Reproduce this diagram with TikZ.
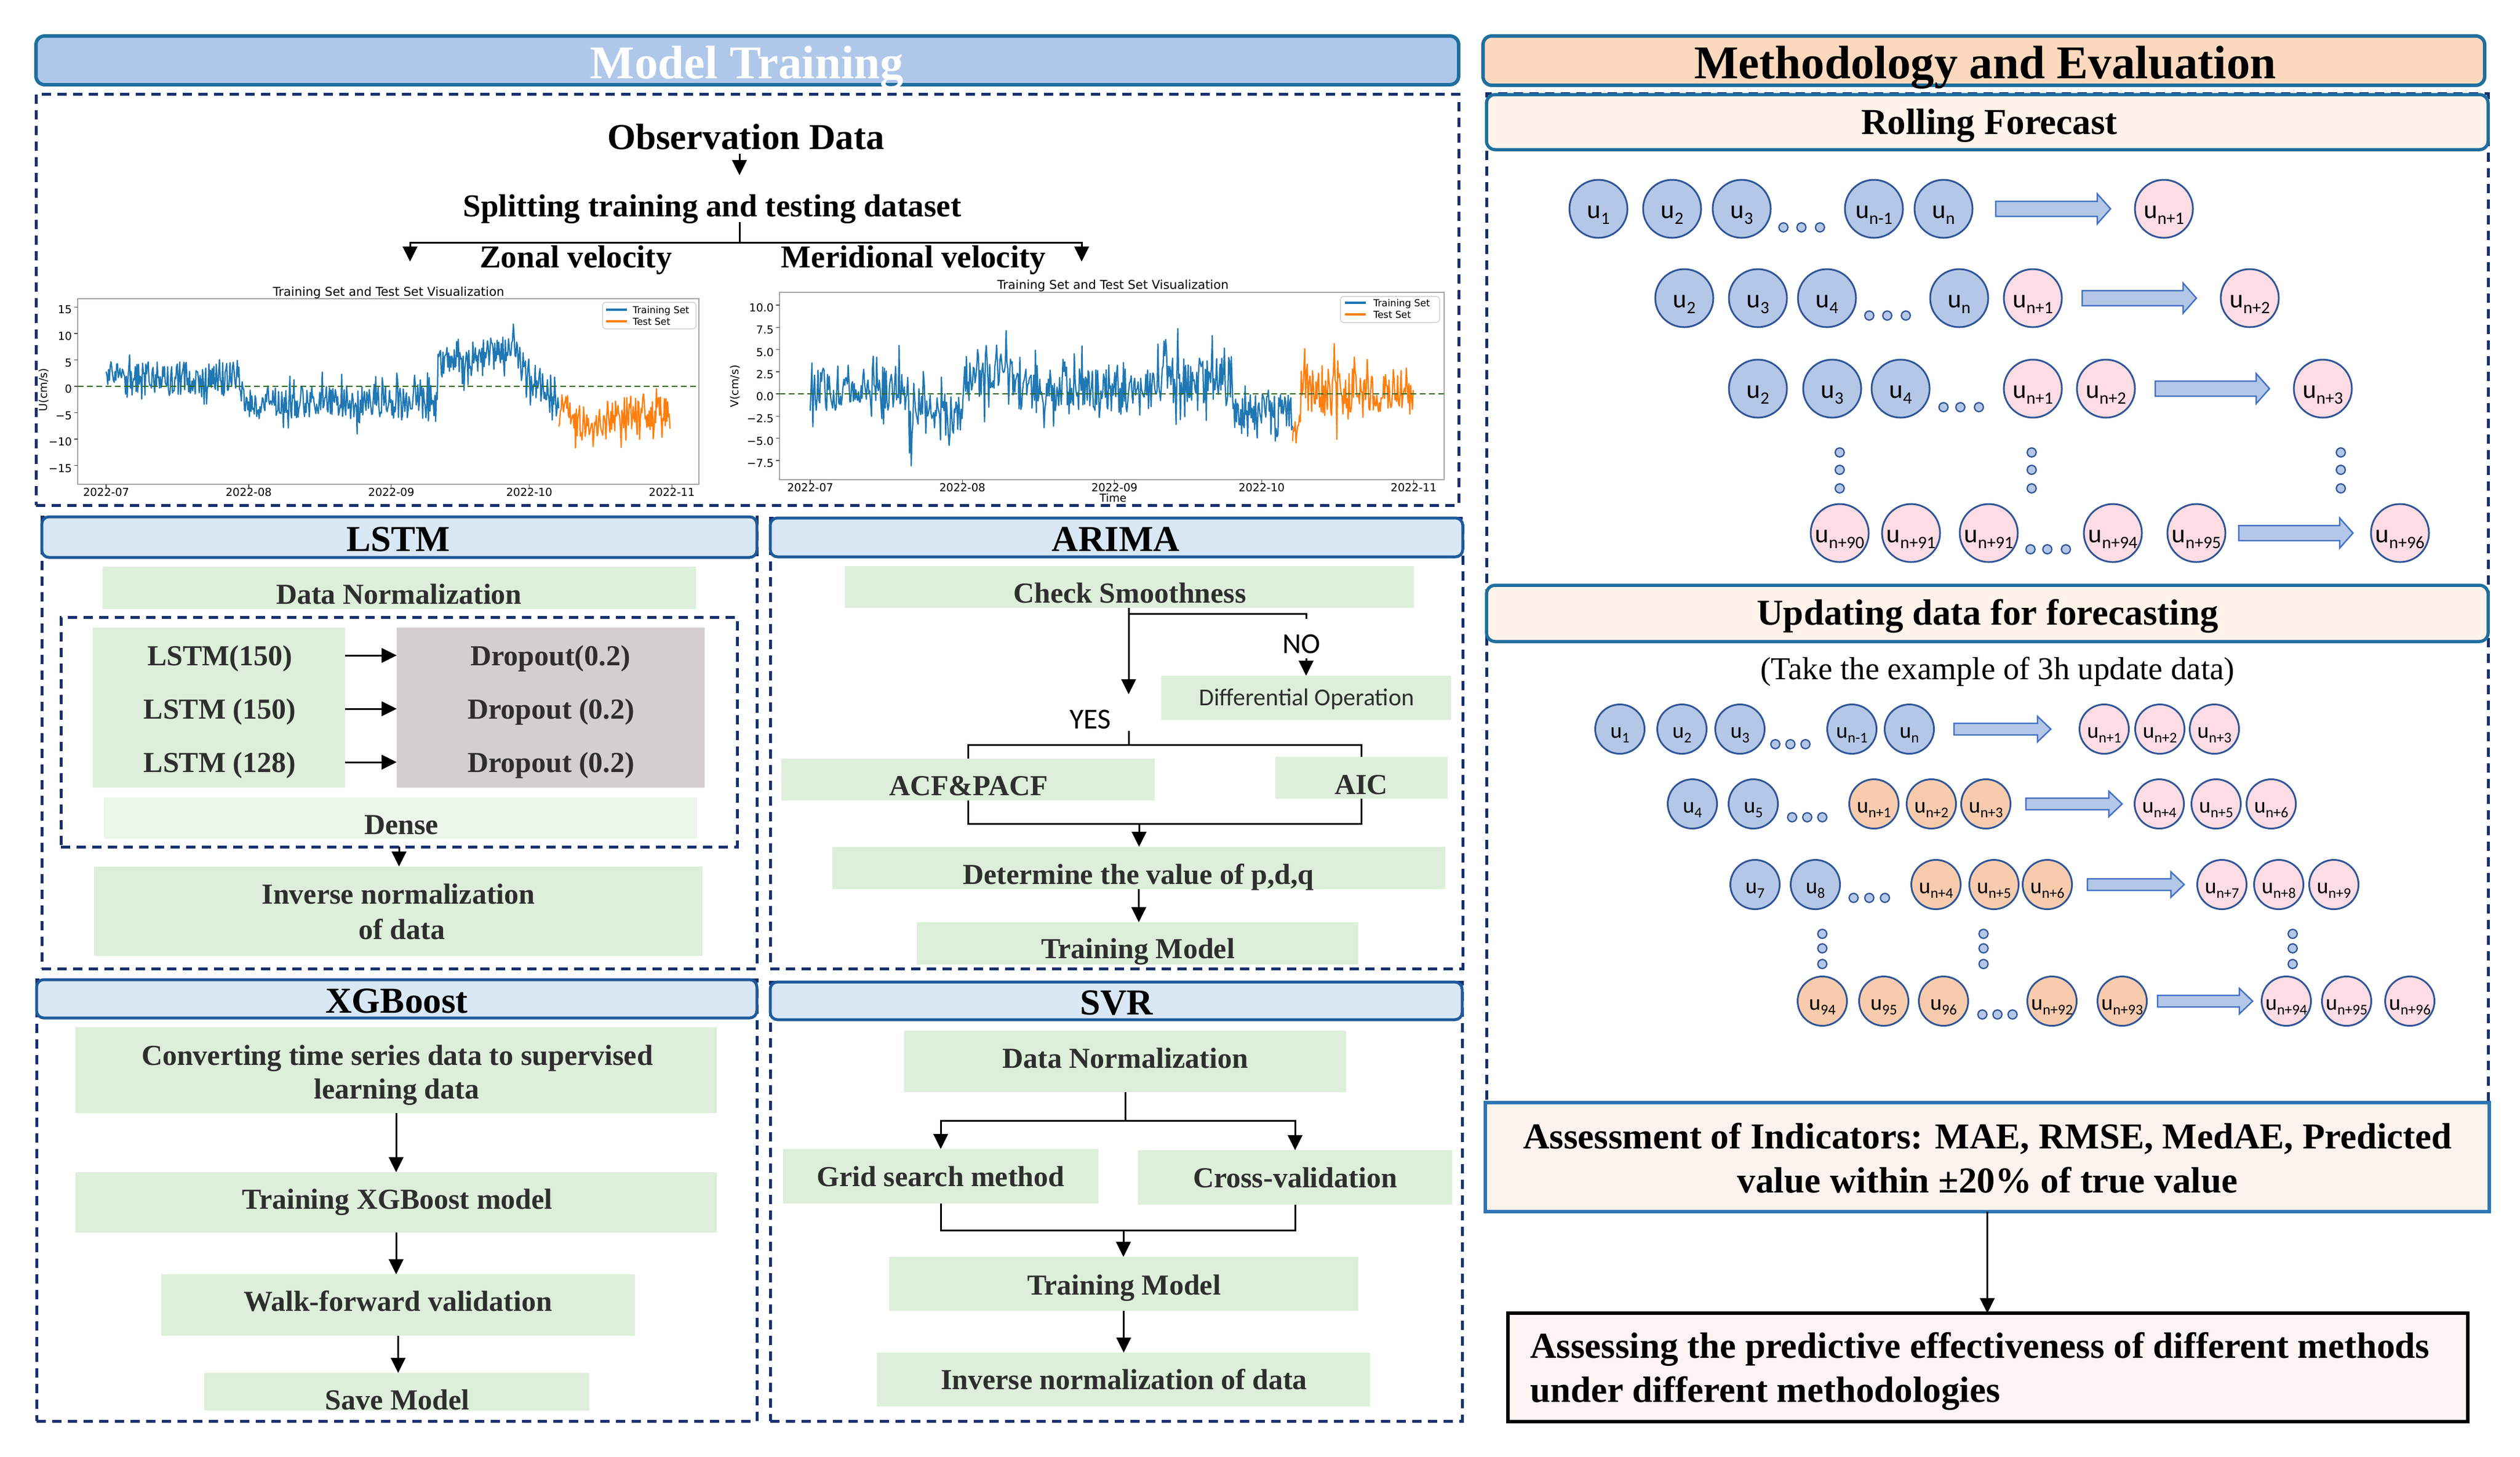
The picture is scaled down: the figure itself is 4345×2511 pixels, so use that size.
\documentclass[tikz,border=0pt]{standalone}
\usepackage{fontspec}
\setmainfont{Liberation Serif}
\newfontfamily\calf{Carlito}
\newfontfamily\dvf{DejaVu Sans}
\usetikzlibrary{arrows.meta,fit}
\definecolor{bannerBlue}{HTML}{AFC8EA}
\definecolor{bannerEdge}{HTML}{1E6E9E}
\definecolor{hdrFill}{HTML}{DAE8F5}
\definecolor{hdrEdge}{HTML}{1F5A9C}
\definecolor{navy}{HTML}{17306E}
\definecolor{gFill}{HTML}{DDEFDA}
\definecolor{gLight}{HTML}{ECF6EA}
\definecolor{dropFill}{HTML}{D3CFD0}
\definecolor{txtGrey}{HTML}{2E2E2E}
\definecolor{peach}{HTML}{FCD9BE}
\definecolor{peachL}{HTML}{FEF2EA}
\definecolor{cBlue}{HTML}{B4C7E7}
\definecolor{cEdge}{HTML}{2F5597}
\definecolor{cPink}{HTML}{FDDCE3}
\definecolor{cOrange}{HTML}{F8CBAD}
\definecolor{arrEdge}{HTML}{4472C4}
\definecolor{assFill}{HTML}{FDF3EE}
\definecolor{assEdge}{HTML}{2E75B6}
\definecolor{finFill}{HTML}{FDF3F3}
\definecolor{mplBlue}{HTML}{1F77B4}
\definecolor{mplOrange}{HTML}{FF7F0E}
\definecolor{zeroGreen}{HTML}{2E6B1E}
\newcommand\fBanner{\fontsize{16.2pt}{19pt}\selectfont\bfseries}
\newcommand\fHead{\fontsize{12.6pt}{15pt}\selectfont\bfseries}
\newcommand\fSub{\fontsize{11pt}{13pt}\selectfont\bfseries}
\newcommand\fSubR{\fontsize{11pt}{13pt}\selectfont}
\newcommand\fBox{\fontsize{10pt}{12pt}\selectfont\bfseries}
\newcommand\fDiff{\calf\fontsize{8.4pt}{10pt}\selectfont}
\newcommand\fYN{\calf\fontsize{10pt}{12pt}\selectfont}
\newcommand\fTick{\dvf\fontsize{3.8pt}{4.5pt}\selectfont}
\newcommand\fTit{\dvf\fontsize{4.2pt}{5pt}\selectfont}
\newcommand\fLeg{\dvf\fontsize{3.3pt}{4pt}\selectfont}
\newcommand\ua[1]{\raisebox{-3.2pt}[0pt][0pt]{\fontsize{9pt}{9pt}\selectfont u\raisebox{-2pt}{\fontsize{6pt}{6pt}\selectfont #1}}}
\newcommand\ub[1]{\raisebox{-3pt}[0pt][0pt]{\fontsize{7.6pt}{7.6pt}\selectfont u\raisebox{-1.7pt}{\fontsize{5.1pt}{5.1pt}\selectfont #1}}}
\newcommand\cir[5]{\node[#1] (#2) at (#3,#4) {#5};}
\newcommand\tdots[5]{\node[sdot] (#1a) at (#2,#5) {};\node[sdot] (#1b) at (#3,#5) {};\node[sdot] (#1c) at (#4,#5) {};}
\newcommand\vdts[5]{\node[sdot] (#1a) at (#2,#3) {};\node[sdot] (#1b) at (#2,#4) {};\node[sdot] (#1c) at (#2,#5) {};}
\newcommand\barrow[5]{\path[fill=cBlue, draw=arrEdge, line width=0.5pt] (#1,#3-#4) -- (#2-23,#3-#4) -- (#2-23,#3-#5) -- (#2,#3) -- (#2-23,#3+#5) -- (#2-23,#3+#4) -- (#1,#3+#4) -- cycle;}
\begin{document}
\begin{tikzpicture}[x=0.2pt, y=-0.2pt,
  declare function={
    sp(\x)=\x*\x*\x*\x*\x;
    tri(\x,\c,\w)=max(0,1-abs(\x-\c)/\w);
    zm(\x)=(\x<30)*1.5+(\x>=30)*(\x<72)*(-3)+(\x>=72)*(\x<88)*(4+0.15*(\x-72))+(\x>=88)*(6.4-(\x-88))+6*tri(\x,88.3,0.5);
    zo(\x)=-5-3.5*tri(\x,106,6);
    vm(\x)=(\x<20)*0.6+(\x>=20)*(\x<31)*(-2.3)+(\x>=31)*(\x<42)*1.8+(\x>=42)*(\x<70)*0.3+(\x>=70)*(\x<86)*1.5+(\x>=86)*(-2.3)+4*tri(\x,72.3,0.5);
    vo(\x)=(\x<100)*(-5)+(\x>=100)*0.3;
  },
  bx/.style={inner sep=0pt, outer sep=0pt},
  banner/.style={bx, draw=bannerEdge, line width=1.2pt, fill=bannerBlue, rounded corners=3pt},
  banner2/.style={banner, fill=peach},
  sbanner/.style={bx, draw=bannerEdge, line width=1.1pt, fill=peachL, rounded corners=3pt},
  hdr/.style={bx, fill=hdrFill, draw=hdrEdge, line width=1pt, rounded corners=2.5pt},
  dpanel/.style={bx, draw=navy, line width=1pt, dash pattern=on 3.2pt off 2.2pt},
  gbox/.style={bx, fill=gFill},
  tx/.style={inner sep=0pt, outer sep=0pt, anchor=base},
  btx/.style={tx, font=\fBox, text=txtGrey},
  conn/.style={line width=0.6pt, black},
  arr/.style={conn, -{Triangle[length=5.2pt,width=5pt]}},
  rc/.style={circle, draw=cEdge, line width=0.6pt, minimum size=20pt, inner sep=0pt, font=\calf},
  rb/.style={rc, fill=cBlue}, rp/.style={rc, fill=cPink},
  uc/.style={circle, draw=cEdge, line width=0.6pt, minimum size=17pt, inner sep=0pt, font=\calf},
  ubl/.style={uc, fill=cBlue}, upk/.style={uc, fill=cPink}, uor/.style={uc, fill=cOrange},
  sdot/.style={circle, draw=cEdge, fill=cBlue, line width=0.45pt, minimum size=3.1pt, inner sep=0pt},
  axbox/.style={bx, draw=gray!70, line width=0.35pt},
  tickl/.style={gray!60!black, line width=0.3pt},
  ytl/.style={inner sep=0pt, anchor=mid east, font=\fTick},
  xtl/.style={tx, font=\fTick},
  zline/.style={zeroGreen, line width=0.55pt, dash pattern=on 2pt off 1.2pt},
  sline/.style={line width=0.45pt, line join=round},
]
\fill[white] (0,0) rectangle (4345,2511);
\useasboundingbox (0,0) rectangle (4345,2511);

% ================= MODEL TRAINING =================
\node[dpanel, fit={(62,162) (2515,871)}] (mtP) {};
\node[banner, fit={(62,62) (2515,146)}] (mtB) {};
\node[tx, font=\fBanner, text=white] (mtT) at (1288,135) {Model Training};
\node[tx, font=\fHead] (obs) at (1286,257) {Observation Data};
\node[tx, font=\fSub] (split) at (1228,373) {Splitting training and testing dataset};
\node[tx, font=\fSub] (zonal) at (993,461) {Zonal velocity};
\node[tx, font=\fSub] (merid) at (1575,461) {Meridional velocity};
\coordinate (j1) at (1275,265); \coordinate (j2) at (1275,302);
\coordinate (j3) at (1275,383); \coordinate (j4) at (1275,418);
\coordinate (zt) at (707,451); \coordinate (mt) at (1865,451);
\draw[arr] (j1) -- (j2);
\draw[conn] (j3) -- (j4);
\draw[arr] (j4) -| (zt);
\draw[arr] (j4) -| (mt);

% ---- left chart ----
\node[axbox, fit={(134,515) (1205,835)}] (axL) {};
\begin{scope}
  \clip (axL.south west) rectangle (axL.north east);
  \begin{scope}[shift={(183,666)}, x=1.586pt, y=1.82pt]
    \pgfmathsetseed{11}
    \draw[mplBlue, sline] plot[domain=0:98.4, samples=560] (\x,{zm(\x)+3.2*rand+3.6*sp(rand)});
    \draw[mplOrange, sline] plot[domain=98.4:122.6, samples=140] (\x,{zo(\x)+3.4*rand+4.6*sp(rand)});
  \end{scope}
\end{scope}
\coordinate (zL) at (0,666);
\draw[zline] (axL.west |- zL) -- (axL.east |- zL);
\foreach \v/\lab in {15/15,10/10,5/5,0/0,-5/−5,-10/−10,-15/−15}{
  \draw[tickl] (128,{666-9.1*(\v)}) -- (134,{666-9.1*(\v)});
  \node[ytl] (ytL\v) at (125,{666-9.1*(\v)}) {\lab};
}
\foreach \d/\lab in {0/2022-07,31/2022-08,62/2022-09,92/2022-10,123/2022-11}{
  \draw[tickl] ({183+7.93*\d},835) -- ({183+7.93*\d},841);
  \node[xtl] (xtL\d) at ({183+7.93*\d},855) {\lab};
}
\node[tx, font=\fTit] (tiL) at (670,510) {Training Set and Test Set Visualization};
\node[inner sep=0pt, rotate=90, font=\fTick] (ylL) at (76,672) {U(cm/s)};
\node[bx, fill=white, draw=gray!35, line width=0.3pt, rounded corners=1pt, fit={(1039,521) (1200,567)}] (lgL) {};
\coordinate (lgL1) at (1045,534); \coordinate (lgL2) at (1045,554);
\draw[mplBlue, line width=0.7pt] (lgL1) -- ++(36,0);
\draw[mplOrange, line width=0.7pt] (lgL2) -- ++(36,0);
\node[tx, anchor=base west, font=\fLeg] (lgLt1) at (1091,540) {Training Set};
\node[tx, anchor=base west, font=\fLeg] (lgLt2) at (1091,560) {Test Set};

% ---- right chart ----
\node[axbox, fit={(1344,504) (2490,827)}] (axR) {};
\begin{scope}
  \clip (axR.south west) rectangle (axR.north east);
  \begin{scope}[shift={(1397,679)}, x=1.692pt, y=3.06pt]
    \pgfmathsetseed{23}
    \draw[mplBlue, sline] plot[domain=0:98.3, samples=560] (\x,{vm(\x)+2.5*rand+3.8*sp(rand)});
    \draw[mplOrange, sline] plot[domain=98.3:122.9, samples=140] (\x,{vo(\x)+2.6*rand+3.6*sp(rand)});
  \end{scope}
\end{scope}
\coordinate (zR) at (0,679);
\draw[zline] (axR.west |- zR) -- (axR.east |- zR);
\foreach \v/\lab in {10/10.0,7.5/7.5,5/5.0,2.5/2.5,0/0.0,-2.5/−2.5,-5/−5.0,-7.5/−7.5}{
  \draw[tickl] (1338,{679-15.3*(\v)}) -- (1344,{679-15.3*(\v)});
  \node[ytl] (ytR\v) at (1335,{679-15.3*(\v)}) {\lab};
}
\foreach \d/\lab in {0/2022-07,31/2022-08,62/2022-09,92/2022-10,123/2022-11}{
  \draw[tickl] ({1397+8.46*\d},827) -- ({1397+8.46*\d},833);
  \node[xtl] (xtR\d) at ({1397+8.46*\d},847) {\lab};
}
\node[tx, font=\fTit] (tiR) at (1919,498) {Training Set and Test Set Visualization};
\node[tx, font=\fTick] (timeR) at (1919,865) {Time};
\node[inner sep=0pt, rotate=90, font=\fTick] (ylR) at (1268,666) {V(cm/s)};
\node[bx, fill=white, draw=gray!35, line width=0.3pt, rounded corners=1pt, fit={(2311,511) (2482,556)}] (lgR) {};
\coordinate (lgR1) at (2319,522); \coordinate (lgR2) at (2319,542);
\draw[mplBlue, line width=0.7pt] (lgR1) -- ++(36,0);
\draw[mplOrange, line width=0.7pt] (lgR2) -- ++(36,0);
\node[tx, anchor=base west, font=\fLeg] (lgRt1) at (2368,528) {Training Set};
\node[tx, anchor=base west, font=\fLeg] (lgRt2) at (2368,548) {Test Set};

% ================= LSTM =================
\node[dpanel, fit={(72,891) (1305,1670)}] (lsP) {};
\node[hdr, fit={(72,891) (1305,961)}] (lsH) {};
\node[tx, font=\fHead] (lsT) at (687,950) {LSTM};
\node[gbox, fit={(177,977) (1200,1050)}] (lsDN) {};
\node[btx] (lsDNt) at (688,1041) {Data Normalization};
\node[dpanel, fit={(105,1064) (1271,1460)}] (lsIn) {};
\node[gbox, fit={(160,1082) (595,1358)}] (lsL) {};
\node[bx, fill=dropFill, fit={(684,1082) (1215,1358)}] (lsD) {};
\node[btx] (l1) at (379,1147) {LSTM(150)};
\node[btx] (l2) at (379,1239) {LSTM (150)};
\node[btx] (l3) at (379,1331) {LSTM (128)};
\node[btx] (d1) at (949,1147) {Dropout(0.2)};
\node[btx] (d2) at (950,1239) {Dropout (0.2)};
\node[btx] (d3) at (950,1331) {Dropout (0.2)};
\coordinate (r1) at (0,1130); \coordinate (r2) at (0,1222); \coordinate (r3) at (0,1314);
\draw[arr] (lsL.east |- r1) -- (lsD.west |- r1);
\draw[arr] (lsL.east |- r2) -- (lsD.west |- r2);
\draw[arr] (lsL.east |- r3) -- (lsD.west |- r3);
\node[bx, fill=gLight, fit={(179,1375) (1202,1446)}] (lsDe) {};
\node[btx] (lsDet) at (692,1438) {Dense};
\node[gbox, fit={(162,1494) (1211,1648)}] (lsInv) {};
\node[btx] (lsInv1) at (687,1558) {Inverse normalization};
\node[btx] (lsInv2) at (693,1619) {of data};
\draw[arr] (lsIn.south) -- (lsIn.south |- lsInv.north);

% ================= ARIMA =================
\node[dpanel, fit={(1328,893) (2522,1670)}] (arP) {};
\node[hdr, fit={(1328,893) (2522,960)}] (arH) {};
\node[tx, font=\fHead] (arT) at (1924,950) {ARIMA};
\node[gbox, fit={(1457,976) (2438,1048)}] (arChk) {};
\node[btx] (arChkt) at (1948,1039) {Check Smoothness};
\node[gbox, fit={(2002,1165) (2502,1241)}] (arDiff) {};
\node[tx, font=\fDiff, text=txtGrey] (arDifft) at (2253,1216) {Differential Operation};
\node[gbox, fit={(1347,1308) (1991,1380)}] (arAcf) {};
\node[btx] (arAcft) at (1670,1371) {ACF\&PACF};
\node[gbox, fit={(2199,1305) (2496,1377)}] (arAic) {};
\node[btx] (arAict) at (2347,1369) {AIC};
\node[gbox, fit={(1435,1460) (2492,1533)}] (arDet) {};
\node[btx] (arDett) at (1963,1524) {Determine the value of p,d,q};
\node[gbox, fit={(1581,1590) (2342,1663)}] (arTr) {};
\node[btx] (arTrt) at (1962,1652) {Training Model};
\node[tx, font=\fYN] (yes) at (1880,1256) {YES};
\node[tx, font=\fYN] (no) at (2244,1126) {NO};
\coordinate (aX) at (1946,1058);
\coordinate (aN1) at (2252,1067); \coordinate (aN2) at (2252,1135);
\coordinate (aY1) at (1946,1197); \coordinate (aY2) at (1946,1260); \coordinate (aY3) at (1946,1284);
\coordinate (aB) at (1964,1420);
\draw[arr] (arChk.south -| aX) -- (aY1);
\draw[conn] (aX) -| (aN1);
\draw[arr] (aN2) -- (arDiff.north -| aN2);
\draw[conn] (aY2) -- (aY3);
\draw[conn] (arAcf.north) |- (aY3) -| (arAic.north);
\draw[conn] (arAcf.south) |- (aB) -| (arAic.south);
\draw[arr] (aB) -- (aB |- arDet.north);
\draw[arr] (arDet.south) -- (arDet.south |- arTr.north);

% ================= XGBOOST =================
\node[dpanel, fit={(63,1689) (1305,2450)}] (xgP) {};
\node[hdr, fit={(63,1689) (1305,1755)}] (xgH) {};
\node[tx, font=\fHead] (xgT) at (684,1746) {XGBoost};
\node[gbox, fit={(130,1771) (1236,1919)}] (xg1) {};
\node[btx] (xg1a) at (685,1836) {Converting time series data to supervised};
\node[btx] (xg1b) at (684,1894) {learning data};
\node[gbox, fit={(130,2021) (1236,2125)}] (xg2) {};
\node[btx] (xg2t) at (685,2084) {Training XGBoost model};
\node[gbox, fit={(278,2197) (1095,2303)}] (xg3) {};
\node[btx] (xg3t) at (686,2260) {Walk-forward validation};
\node[gbox, fit={(352,2367) (1016,2432)}] (xg4) {};
\node[btx] (xg4t) at (685,2430) {Save Model};
\draw[arr] (xg1.south) -- (xg1.south |- xg2.north);
\draw[arr] (xg2.south) -- (xg2.south |- xg3.north);
\draw[arr] (xg3.south) -- (xg3.south |- xg4.north);

% ================= SVR =================
\node[dpanel, fit={(1328,1693) (2521,2450)}] (svP) {};
\node[hdr, fit={(1328,1693) (2521,1758)}] (svH) {};
\node[tx, font=\fHead] (svTt) at (1925,1749) {SVR};
\node[gbox, fit={(1559,1777) (2321,1883)}] (svDN) {};
\node[btx] (svDNt) at (1940,1841) {Data Normalization};
\node[gbox, fit={(1350,1981) (1894,2075)}] (svG) {};
\node[btx] (svGt) at (1622,2045) {Grid search method};
\node[gbox, fit={(1962,1983) (2504,2077)}] (svC) {};
\node[btx] (svCt) at (2233,2047) {Cross-validation};
\node[gbox, fit={(1533,2167) (2342,2260)}] (svT) {};
\node[btx] (svTrt) at (1938,2232) {Training Model};
\node[gbox, fit={(1512,2332) (2362,2425)}] (svI) {};
\node[btx] (svIt) at (1938,2395) {Inverse normalization of data};
\coordinate (sJ) at (1940,1932);
\coordinate (sB) at (1937,2121);
\draw[conn] (svDN.south) -- (sJ);
\draw[arr] (sJ) -| (svG.north);
\draw[arr] (sJ) -| (svC.north);
\draw[conn] (svG.south) |- (sB) -| (svC.south);
\draw[arr] (sB) -- (sB |- svT.north);
\draw[arr] (svT.south) -- (svT.south |- svI.north);

% ================= METHODOLOGY =================
\node[dpanel, fit={(2563,161) (4290,1900)}] (rP) {};
\node[banner2, fit={(2557,62) (4284,147)}] (meB) {};
\node[tx, font=\fBanner] (meT) at (3423,135) {Methodology and Evaluation};
\node[sbanner, fit={(2563,163) (4290,258)}] (rfB) {};
\node[tx, font=\fHead] (rfT) at (3430,231) {Rolling Forecast};

% rolling row 1
\cir{rb}{ra1}{2756}{360}{\ua{1}}
\cir{rb}{ra2}{2883}{360}{\ua{2}}
\cir{rb}{ra3}{3003}{360}{\ua{3}}
\tdots{rad}{3075}{3106}{3138}{392}
\cir{rb}{ra4}{3231}{360}{\ua{n-1}}
\cir{rb}{ra5}{3351}{360}{\ua{n}}
\barrow{3441}{3639}{360}{13}{26}
\cir{rp}{ra6}{3731}{360}{\ua{n+1}}
% rolling row 2
\cir{rb}{rb1}{2904}{514}{\ua{2}}
\cir{rb}{rb2}{3031}{514}{\ua{3}}
\cir{rb}{rb3}{3150}{514}{\ua{4}}
\tdots{rbd}{3223}{3254}{3286}{544}
\cir{rb}{rb4}{3378}{514}{\ua{n}}
\cir{rp}{rb5}{3505}{514}{\ua{n+1}}
\barrow{3590}{3787}{514}{13}{26}
\cir{rp}{rb6}{3879}{514}{\ua{n+2}}
% rolling row 3
\cir{rb}{rc1}{3031}{670}{\ua{2}}
\cir{rb}{rc2}{3159}{670}{\ua{3}}
\cir{rb}{rc3}{3277}{670}{\ua{4}}
\tdots{rcd}{3351}{3380}{3412}{702}
\cir{rp}{rc4}{3505}{670}{\ua{n+1}}
\cir{rp}{rc5}{3631}{670}{\ua{n+2}}
\barrow{3716}{3913}{670}{13}{26}
\cir{rp}{rc6}{4005}{670}{\ua{n+3}}
% vertical dots
\vdts{rv1}{3172}{780}{810}{842}
\vdts{rv2}{3503}{780}{810}{842}
\vdts{rv3}{4036}{780}{810}{842}
% rolling row 4
\cir{rp}{rd1}{3172}{919}{\ua{n+90}}
\cir{rp}{rd2}{3295}{919}{\ua{n+91}}
\cir{rp}{rd3}{3429}{919}{\ua{n+91}}
\tdots{rdd}{3501}{3530}{3562}{947}
\cir{rp}{rd4}{3643}{919}{\ua{n+94}}
\cir{rp}{rd5}{3787}{919}{\ua{n+95}}
\barrow{3860}{4057}{919}{13}{26}
\cir{rp}{rd6}{4138}{919}{\ua{n+96}}

% updating
\node[sbanner, fit={(2563,1009) (4290,1106)}] (udB) {};
\node[tx, font=\fHead] (udT) at (3427,1077) {Updating data for forecasting};
\node[tx, font=\fSubR] (udS) at (3444,1171) {(Take the example of 3h update data)};
% row 1
\cir{ubl}{ua1}{2793}{1257}{\ub{1}}
\cir{ubl}{ua2}{2900}{1257}{\ub{2}}
\cir{ubl}{ua3}{3000}{1257}{\ub{3}}
\tdots{uad}{3061}{3087}{3113}{1283}
\cir{ubl}{ua4}{3193}{1257}{\ub{n-1}}
\cir{ubl}{ua5}{3292}{1257}{\ub{n}}
\barrow{3369}{3536}{1257}{10}{22}
\cir{upk}{ua6}{3628}{1257}{\ub{n+1}}
\cir{upk}{ua7}{3724}{1257}{\ub{n+2}}
\cir{upk}{ua8}{3818}{1257}{\ub{n+3}}
% row 2
\cir{ubl}{ub1}{2918}{1386}{\ub{4}}
\cir{ubl}{ub2}{3023}{1386}{\ub{5}}
\tdots{ubd}{3090}{3116}{3142}{1409}
\cir{uor}{ub3}{3231}{1386}{\ub{n+1}}
\cir{uor}{ub4}{3330}{1386}{\ub{n+2}}
\cir{uor}{ub5}{3424}{1386}{\ub{n+3}}
\barrow{3493}{3659}{1386}{10}{22}
\cir{upk}{ub6}{3723}{1386}{\ub{n+4}}
\cir{upk}{ub7}{3821}{1386}{\ub{n+5}}
\cir{upk}{ub8}{3916}{1386}{\ub{n+6}}
% row 3
\cir{ubl}{uc1}{3026}{1525}{\ub{7}}
\cir{ubl}{uc2}{3130}{1525}{\ub{8}}
\tdots{ucd}{3196}{3223}{3250}{1548}
\cir{uor}{uc3}{3338}{1525}{\ub{n+4}}
\cir{uor}{uc4}{3438}{1525}{\ub{n+5}}
\cir{uor}{uc5}{3530}{1525}{\ub{n+6}}
\barrow{3599}{3766}{1525}{10}{22}
\cir{upk}{uc6}{3831}{1525}{\ub{n+7}}
\cir{upk}{uc7}{3929}{1525}{\ub{n+8}}
\cir{upk}{uc8}{4024}{1525}{\ub{n+9}}
% vertical dots
\vdts{uv1}{3142}{1610}{1635}{1662}
\vdts{uv2}{3420}{1610}{1635}{1662}
\vdts{uv3}{3953}{1610}{1635}{1662}
% row 4
\cir{uor}{ud1}{3142}{1726}{\ub{94}}
\cir{uor}{ud2}{3248}{1726}{\ub{95}}
\cir{uor}{ud3}{3351}{1726}{\ub{96}}
\tdots{udd}{3418}{3444}{3470}{1749}
\cir{uor}{ud4}{3538}{1726}{\ub{n+92}}
\cir{uor}{ud5}{3659}{1726}{\ub{n+93}}
\barrow{3720}{3884}{1726}{10}{22}
\cir{upk}{ud6}{3942}{1726}{\ub{n+94}}
\cir{upk}{ud7}{4046}{1726}{\ub{n+95}}
\cir{upk}{ud8}{4155}{1726}{\ub{n+96}}

% assessment
\node[bx, fill=assFill, draw=assEdge, line width=1.2pt, fit={(2561,1901) (4292,2089)}] (ass) {};
\node[tx, font=\fHead] (ass1) at (3427,1980) {Assessment of Indicators: MAE, RMSE, MedAE, Predicted};
\node[tx, font=\fHead] (ass2) at (3427,2056) {value within ±20\% of true value};
\node[bx, fill=finFill, draw=black, line width=1.1pt, fit={(2600,2264) (4255,2451)}] (fin) {};
\node[tx, anchor=base west, font=\fHead] (fin1) at (2638,2341) {Assessing the predictive effectiveness of different methods};
\node[tx, anchor=base west, font=\fHead] (fin2) at (2638,2417) {under different methodologies};
\draw[arr] (ass.south) -- (ass.south |- fin.north);
\end{tikzpicture}
\end{document}
